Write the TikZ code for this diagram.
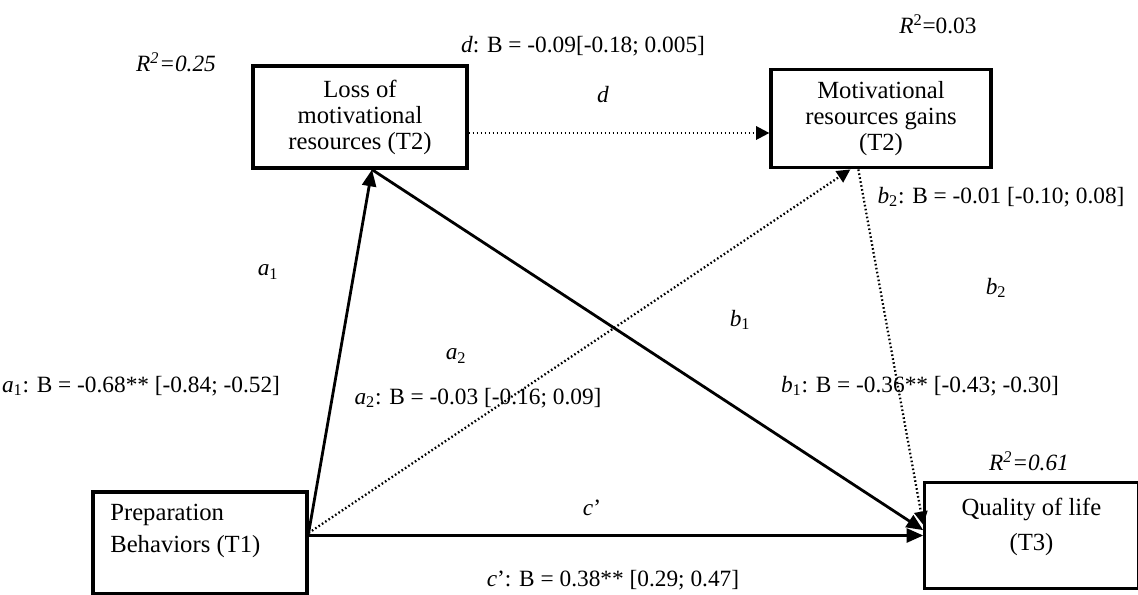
\documentclass[tikz,border=0pt]{standalone}
\usepackage{fontspec}
\setmainfont{Liberation Serif}
\usetikzlibrary{arrows.meta}
\newcommand{\pth}[2]{\textit{#1}\textsubscript{#2}}
\tikzset{
    var/.style={draw, line width=2.4pt, minimum width=160.5pt, minimum height=76.5pt,
        align=center, inner sep=0pt, font=\fontsize{18.5}{19.5}\selectfont},
    sig/.style={line width=2.1pt, -{Triangle[length=12.5pt,width=10.5pt]}},
    nsig/.style={line width=1.7pt, dash pattern=on 1.2pt off 1.8pt,
        -{Triangle[length=10pt,width=10pt]}},
}
\begin{document}
\begin{tikzpicture}[x=0.75pt, y=-0.75pt, font=\fontsize{17.5}{21}\selectfont]
    \useasboundingbox (0,0) rectangle (1138,595);
    % variables
    \node[var] (loss) at (360,117) {Loss of\\motivational\\resources (T2)};
    \node[var, minimum width=165pt, minimum height=74pt] (gains) at (881,118.5)
        {Motivational\\resources gains\\(T2)};
    \node[var] (prep) at (200,543) {};
    \node[anchor=north west, align=left, inner sep=0pt, font=\fontsize{18.5}{24}\selectfont]
        (preptxt) at ([xshift=14pt,yshift=-10pt]prep.north west) {Preparation\\Behaviors (T1)};
    \node[var, minimum width=160pt, minimum height=79pt] (qol) at (1031.5,535.5) {};
    \node[align=center, inner sep=0pt, font=\fontsize{18.5}{26}\selectfont]
        (qoltxt) at ([yshift=6.4pt]qol.center) {Quality of life\\(T3)};
    % paths
    \coordinate (dstart) at ([yshift=-12pt]loss.east);
    \draw[sig] ([yshift=7.5pt]prep.east) -- ([xshift=9pt]loss.south);
    \draw[nsig] ([yshift=7.5pt]prep.east) -- ([xshift=-23pt]gains.south);
    \draw[sig] ([xshift=9pt]loss.south) -- ([yshift=4pt]qol.west);
    \draw[nsig] ([xshift=-17pt]gains.south) -- ([yshift=8pt]qol.west);
    \draw[sig] (prep.east |- qol.west) -- (qol.west);
    \draw[nsig] (dstart) -- (dstart -| gains.west);
    % coefficients
    \node (r2loss) at (176,62) {\textit{R\textsuperscript{2}=0.25}};
    \node (r2gains) at (938,24) {\textit{R}\textsuperscript{2}=0.03};
    \node (r2qol) at (1029,461) {\textit{R\textsuperscript{2}=0.61}};
    \node (dlong) at (583,46) {\textit{d}: B = -0.09[-0.18; 0.005]};
    \node (dlbl) at (603,95) {\textit{d}};
    \node (a1lbl) at (268,272) {\pth{a}{1}};
    \node (a2lbl) at (456,356) {\pth{a}{2}};
    \node (b1lbl) at (740,320) {\pth{b}{1}};
    \node (b2lbl) at (996,288) {\pth{b}{2}};
    \node (clbl) at (592,508) {\textit{c}’};
    \node (a1long) at (141,386) {\pth{a}{1}: B = -0.68** [-0.84; -0.52]};
    \node (a2long) at (478,398) {\pth{a}{2}: B = -0.03 [-0.16; 0.09]};
    \node (b1long) at (920,386) {\pth{b}{1}: B = -0.36** [-0.43; -0.30]};
    \node (b2long) at (1001,197) {\pth{b}{2}: B = -0.01 [-0.10; 0.08]};
    \node (clong) at (613,580) {\textit{c}’: B = 0.38** [0.29; 0.47]};
\end{tikzpicture}
\end{document}
